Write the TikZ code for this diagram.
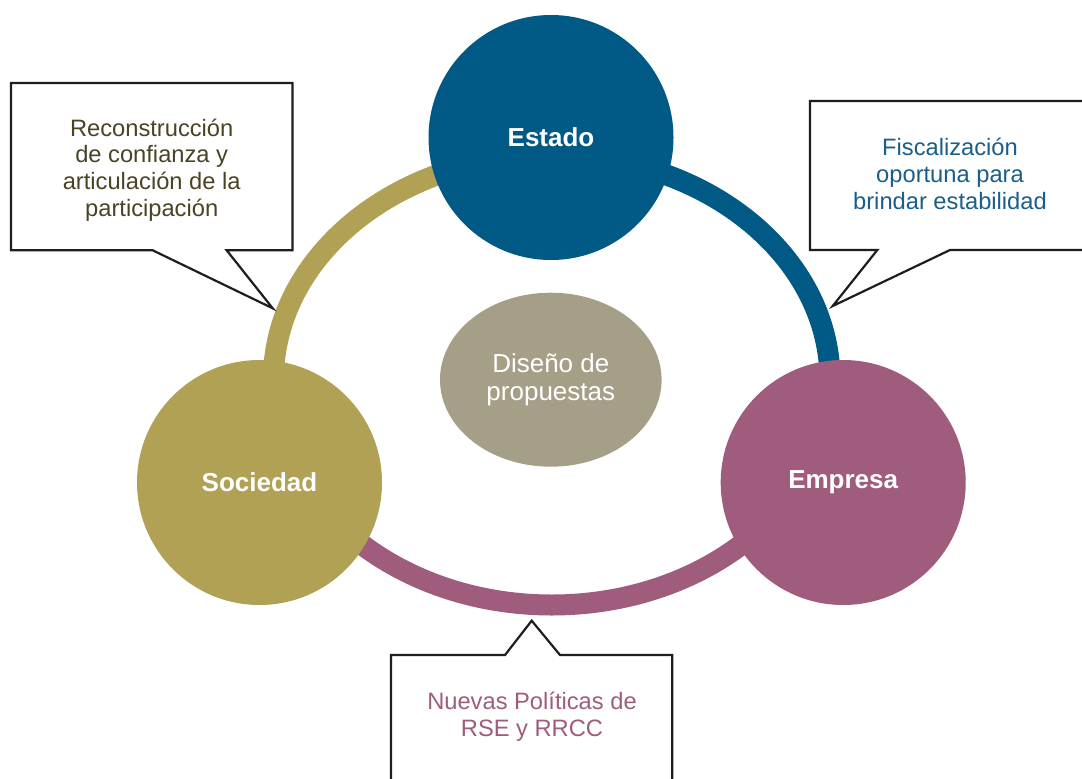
\documentclass[tikz,border=0pt]{standalone}
\usepackage{fontspec}
\setmainfont{Liberation Sans}
\usetikzlibrary{shapes.geometric}
\definecolor{estadoblue}{HTML}{005A85}
\definecolor{socolive}{HTML}{B0A155}
\definecolor{empmauve}{HTML}{A05C7C}
\definecolor{disgray}{HTML}{A69F88}
\definecolor{oliveText}{HTML}{4A4424}
\definecolor{blueText}{HTML}{1B5E8A}
\definecolor{calloutline}{HTML}{1E1E1E}
\begin{document}
\begin{tikzpicture}[x=1pt,y=-1pt,
  ringline/.style={line width=21pt},
  actor/.style={circle, minimum size=245pt, inner sep=0pt, text=white,
    font=\fontsize{26}{30}\selectfont\bfseries},
  callout/.style={draw=calloutline, fill=white, line width=2.2pt, line join=miter},
  callouttext/.style={align=center, inner sep=0pt, font=\fontsize{23.7}{26.8}\selectfont}]
\useasboundingbox (0,0) rectangle (1082,779);
\fill[white] (0,0) rectangle (1082,779);

% ring
\coordinate (ringL) at (273.4,380);
\coordinate (ringR) at (830,380);
\draw[ringline, socolive] (ringL) arc[start angle=180, end angle=270, x radius=278.3, y radius=225];
\draw[ringline, estadoblue] (ringR) arc[start angle=360, end angle=270, x radius=278.3, y radius=225];
\draw[ringline, empmauve] (ringR) arc[start angle=0, end angle=180, x radius=278.3, y radius=225];

% actors
\node[actor, fill=estadoblue] (estado) at (551,137.5) {Estado};
\node[actor, fill=socolive] (sociedad) at (259.5,482.5) {Sociedad};
\node[actor, fill=empmauve] (empresa) at (843.2,482.5) {Empresa};
\node[ellipse, fill=disgray, minimum width=221.6pt, minimum height=174pt, inner sep=0pt,
  align=center, text=white, font=\fontsize{26}{28.4}\selectfont] (diseno) at (550.8,379.7)
  {Diseño de\\propuestas};

% callouts
\draw[callout] (11,83) -- (292.5,83) -- (292.5,250.3) -- (226.7,250.3) -- (272.7,308.3)
  -- (152.7,250.3) -- (11,250.3) -- cycle;
\node[callouttext, text=oliveText] (cSociedad) at (151.7,170)
  {Reconstrucción\\de confianza y\\articulación de la\\participación};

\draw[callout] (810,101) -- (1095,101) -- (1095,250) -- (950,250) -- (832.7,306)
  -- (877.3,250) -- (810,250) -- cycle;
\node[callouttext, text=blueText] (cEstado) at (950,173.7)
  {Fiscalización\\oportuna para\\brindar estabilidad};

\draw[callout] (391,655) -- (505,655) -- (531.7,620.7) -- (560,655) -- (672.3,655)
  -- (672.3,795) -- (391,795) -- cycle;
\node[callouttext, text=empmauve] (cEmpresa) at (532,717.1)
  {Nuevas Políticas de\\RSE y RRCC};
\end{tikzpicture}
\end{document}
